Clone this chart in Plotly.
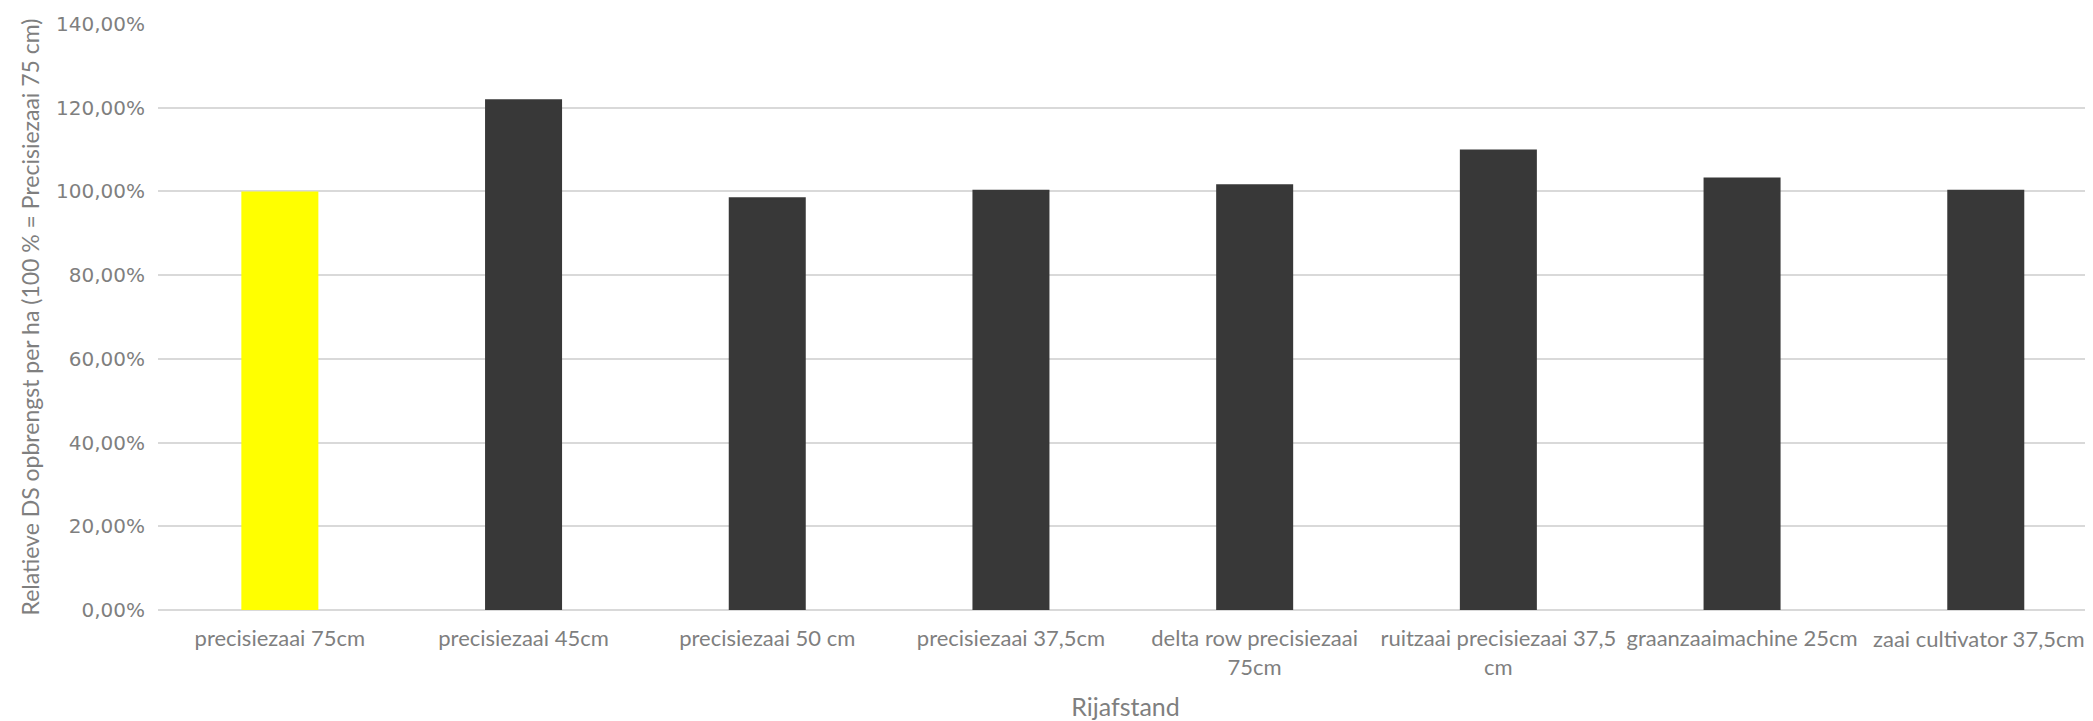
import plotly.graph_objects as go

categories = ["precisiezaai 75cm", "precisiezaai 45cm", "precisiezaai 50 cm",
              "precisiezaai 37,5cm", "delta row precisiezaai 75cm",
              "ruitzaai precisiezaai 37,5 cm", "graanzaaimachine 25cm",
              "zaai cultivator 37,5cm"]
tick_labels = ["precisiezaai 75cm", "precisiezaai 45cm", "precisiezaai 50 cm",
               "precisiezaai 37,5cm", "delta row precisiezaai<br>75cm",
               "ruitzaai precisiezaai 37,5<br>cm", "graanzaaimachine 25cm",
               "zaai cultivator 37,5cm"]
values = [100.0, 122.0, 98.6, 100.4, 101.7, 110.0, 103.3, 100.4]
colors = ["#FFFF00", "#383838", "#383838", "#383838", "#383838", "#383838", "#383838", "#383838"]
y_ticks = [0, 20, 40, 60, 80, 100, 120, 140]
y_tick_labels = ["0,00%", "20,00%", "40,00%", "60,00%", "80,00%", "100,00%", "120,00%", "140,00%"]

font_family = "Lato, 'Open Sans', sans-serif"
grey = "#7f7f7f"

xs = list(range(len(categories)))

fig = go.Figure(go.Bar(x=xs, y=values,
                       hovertext=categories,
                       marker=dict(color=colors, line=dict(width=0)),
                       width=0.316))

fig.update_layout(
    width=2085, height=713,
    margin=dict(l=150, r=0, t=16, b=111, autoexpand=False),
    paper_bgcolor="white", plot_bgcolor="white",
    showlegend=False,
    font=dict(family=font_family, color=grey, size=20),
)
# last category label is kept inside the picture, right-aligned near the edge (as in the reference)
shown = tick_labels[:-1] + [""]
fig.add_annotation(x=1, y=0, xref="paper", yref="paper", text=tick_labels[-1],
                   showarrow=False, xanchor="right", yanchor="top",
                   xshift=-6, yshift=-13, font=dict(size=22, color=grey, family=font_family))
fig.update_xaxes(
    range=[-0.5, 7.44],
    tickmode="array", tickvals=xs, ticktext=shown,
    tickfont=dict(size=22, color=grey), ticks="", ticklabelstandoff=13,
    showline=False, showgrid=False, zeroline=False,
    title=dict(text="Rijafstand", font=dict(size=25, color=grey), standoff=20),
    automargin=False,
)
fig.update_yaxes(
    range=[0, 140], tickmode="array", tickvals=y_ticks, ticktext=y_tick_labels,
    tickfont=dict(family="'DejaVu Sans', sans-serif", size=20, color=grey), ticks="", ticklabelstandoff=12,
    showgrid=True, gridcolor="#d9d9d9", gridwidth=1.5,
    zeroline=True, zerolinecolor="#d9d9d9", zerolinewidth=1.5,
    title=dict(text="Relatieve DS opbrengst per ha (100 % = Precisiezaai 75 cm)",
               font=dict(size=23, color=grey), standoff=9),
    automargin=False,
)

fig.write_html("out.html")
